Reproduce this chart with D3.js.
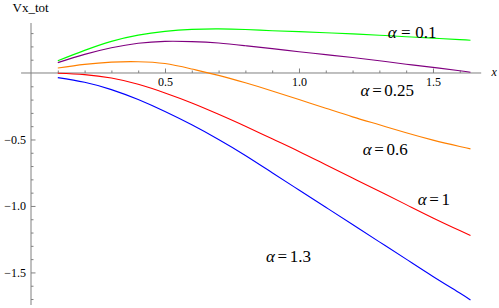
<!DOCTYPE html>
<html>
<head>
<meta charset="utf-8">
<script src="https://cdn.jsdelivr.net/npm/d3@7"></script>
</head>
<body style="margin:0">
<svg id="chart" width="499" height="308" style="display:block;background:#fff"></svg>
<script>
// ---- data ----
const xs = [0.1, 0.2, 0.3, 0.4, 0.5, 0.6, 0.7, 0.8, 0.9, 1.0, 1.1, 1.2, 1.3, 1.4, 1.5, 1.6, 1.64];
const vA01  = [0.092, 0.170, 0.238, 0.285, 0.313, 0.328, 0.332, 0.327, 0.318, 0.311, 0.303, 0.294, 0.284, 0.273, 0.262, 0.251, 0.246];
const vA025 = [0.078, 0.140, 0.190, 0.224, 0.238, 0.236, 0.225, 0.205, 0.183, 0.160, 0.138, 0.116, 0.092, 0.066, 0.042, 0.017, 0.005];
const vA06  = [0.038, 0.065, 0.082, 0.085, 0.071, 0.030, -0.018, -0.074, -0.135, -0.200, -0.265, -0.330, -0.390, -0.450, -0.505, -0.553, -0.571];
const vA1   = [-0.002, -0.012, -0.038, -0.085, -0.150, -0.225, -0.310, -0.400, -0.495, -0.590, -0.690, -0.790, -0.890, -0.990, -1.090, -1.185, -1.222];
const vA13  = [-0.035, -0.070, -0.125, -0.200, -0.290, -0.390, -0.500, -0.620, -0.750, -0.880, -1.010, -1.140, -1.270, -1.400, -1.530, -1.655, -1.707];
const seriesNames = ["α = 0.1", "α=0.25", "α=0.6", "α=1", "α=1.3"];
const seriesColors = ["#00ff00", "#800080", "#ff8000", "#ff0000", "#0000ff"];
const xMajorTicks = [0.5, 1.0, 1.5];
const xMinorTicks = [0.1, 0.2, 0.3, 0.4, 0.6, 0.7, 0.8, 0.9, 1.1, 1.2, 1.3, 1.4, 1.6];
const yMajorTicks = [-0.5, -1.0, -1.5];
const yMinorTicks = [0.3, 0.2, 0.1, -0.1, -0.2, -0.3, -0.4, -0.6, -0.7, -0.8, -0.9, -1.1, -1.2, -1.3, -1.4, -1.6, -1.7];
const yAxisTitle = "Vx_tot";
const xAxisTitle = "x";

// ---- layout ----
const FONT = "Liberation Serif, Times New Roman, Tinos, FreeSerif, Nimbus Roman, DejaVu Serif, serif";
const svg = d3.select("#chart");
const x = d3.scaleLinear().domain([0, 1.68]).range([31, 481.2]);
const y = d3.scaleLinear().domain([0.376, -1.745]).range([23, 305]);
const axisColor = "#808080";

// axis lines
svg.append("line")
  .attr("x1", x(-0.037)).attr("x2", x(1.68))
  .attr("y1", y(0)).attr("y2", y(0))
  .attr("stroke", axisColor).attr("stroke-width", 1);
svg.append("line")
  .attr("x1", x(0)).attr("x2", x(0))
  .attr("y1", y(0.376)).attr("y2", y(-1.745))
  .attr("stroke", axisColor).attr("stroke-width", 1);

function styleAxis(g) {
  g.select(".domain").remove();
  g.attr("font-family", null).attr("font-size", null);
  g.selectAll(".tick line").attr("stroke", axisColor).attr("stroke-width", 1);
  g.selectAll(".tick text").attr("fill", "#000").attr("font-family", FONT).attr("font-size", 12);
}

// x axis minor + major ticks (pointing upward)
svg.append("g").attr("transform", `translate(0,${y(0)})`)
  .call(d3.axisBottom(x).tickValues(xMinorTicks).tickSize(-2.5).tickFormat(""))
  .call(styleAxis);
svg.append("g").attr("transform", `translate(0,${y(0)})`)
  .call(d3.axisBottom(x).tickValues(xMajorTicks).tickSize(-4.5).tickPadding(4.5).tickFormat(d3.format(".1f")))
  .call(styleAxis);

// y axis minor + major ticks (pointing right)
svg.append("g").attr("transform", `translate(${x(0)},0)`)
  .call(d3.axisLeft(y).tickValues(yMinorTicks).tickSize(-2.5).tickFormat(""))
  .call(styleAxis);
svg.append("g").attr("transform", `translate(${x(0)},0)`)
  .call(d3.axisLeft(y).tickValues(yMajorTicks).tickSize(-4.5).tickPadding(5).tickFormat(d3.format(".1f")))
  .call(styleAxis);

// axis titles
svg.append("text").attr("x", 12.5).attr("y", 12)
  .attr("font-family", FONT).attr("font-size", 13).attr("fill", "#000").text(yAxisTitle);
svg.append("text").attr("x", 491.5).attr("y", 76)
  .attr("font-family", FONT).attr("font-size", 12).attr("font-style", "italic").attr("fill", "#000").text(xAxisTitle);

// curves
const allSeries = [vA01, vA025, vA06, vA1, vA13];
const line = d3.line().x(d => x(d[0])).y(d => y(d[1])).curve(d3.curveNatural);
allSeries.forEach((vals, i) => {
  svg.append("path")
    .datum(xs.map((xv, j) => [xv, vals[j]]))
    .attr("fill", "none")
    .attr("stroke", seriesColors[i])
    .attr("stroke-width", 1.1)
    .attr("d", line);
});

// series labels (positions in data coordinates)
const labelPos = [[1.331, 0.261], [1.230, -0.173], [1.238, -0.617], [1.443, -0.992], [0.877, -1.419]];
seriesNames.forEach((name, i) => {
  const parts = name.replace(/\s/g, "").split("=");
  const gap = name.includes(" ") ? 4.5 : 2.6;
  const t = svg.append("text")
    .attr("x", x(labelPos[i][0]))
    .attr("y", y(labelPos[i][1]))
    .attr("font-family", FONT).attr("font-size", 17).attr("fill", "#000");
  t.append("tspan").attr("font-style", "italic").text(parts[0]);
  t.append("tspan").attr("dx", gap).text("=");
  t.append("tspan").attr("dx", gap).text(parts[1]);
});
</script>
</body>
</html>
